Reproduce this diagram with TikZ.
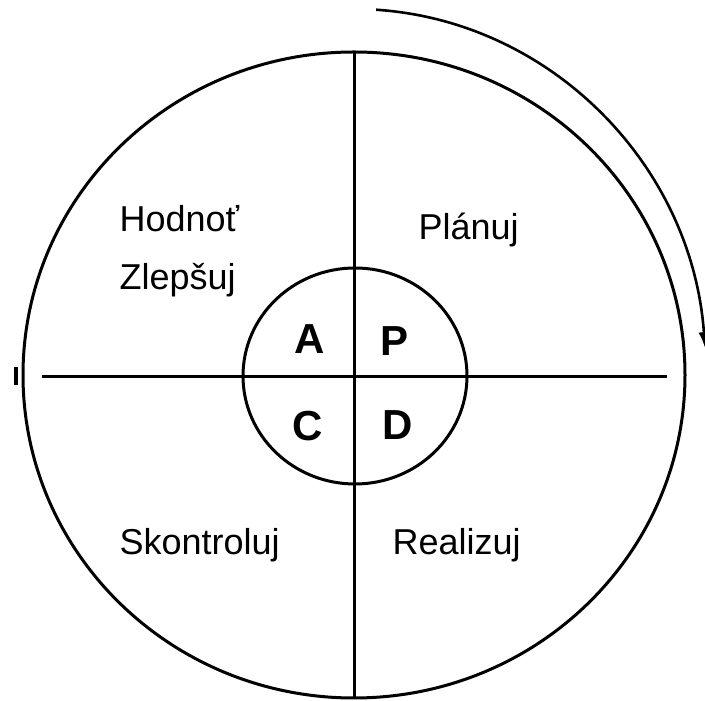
\documentclass[tikz,border=0pt]{standalone}
\usepackage{fontspec}
\setmainfont{Liberation Sans}
\usetikzlibrary{arrows.meta}
\tikzset{
  ring/.style    = {line width=3pt},
  cross/.style   = {line width=3pt},
  phase/.style   = {anchor=base west, font=\fontsize{36}{40}\selectfont},
  letter/.style  = {anchor=base, font=\fontsize{42}{46}\bfseries\selectfont},
  cycarrow/.style= {line width=2.6pt, -{Latex[length=16pt, width=11pt]}},
}
\begin{document}
\begin{tikzpicture}[x=1pt, y=1pt]
\clip (0,0) rectangle (705,701);
\useasboundingbox (0,0) rectangle (705,701);
\coordinate (mid) at (354,326);
% ---- outer and inner rings ----
\draw[ring] (mid) ellipse [x radius=331, y radius=323];
\draw[ring] (355,325) ellipse [x radius=112, y radius=108];
% ---- axes ----
\coordinate (top) at (354,649);
\coordinate (bot) at (354,3);
\coordinate (lft) at (42,324);
\coordinate (rgt) at (667,324);
\draw[cross] (top) -- (bot);
\draw[cross] (lft) -- (rgt);
\draw[line width=4pt] (16,316) -- (16,334);
% ---- direction of the cycle ----
\draw[cycarrow] (mid) ++(86.4:352 and 366)
      arc [start angle=86.4, end angle=4.2, x radius=352, y radius=366];
% ---- quadrant labels ----
\node[phase] (hodnot) at (116,469) {Hodnoť};
\node[phase] (zlepsuj) at (116,411) {Zlepšuj};
\node[phase] (planuj) at (415,461) {Plánuj};
\node[phase] (skontr) at (116,146) {Skontroluj};
\node[phase] (realiz) at (389,146) {Realizuj};
% ---- letters in the hub ----
\node[letter] (la) at (310,347) {A};
\node[letter] (lp) at (395,345) {P};
\node[letter] (lc) at (308,260) {C};
\node[letter] (ld) at (398,261) {D};
\end{tikzpicture}
\end{document}
